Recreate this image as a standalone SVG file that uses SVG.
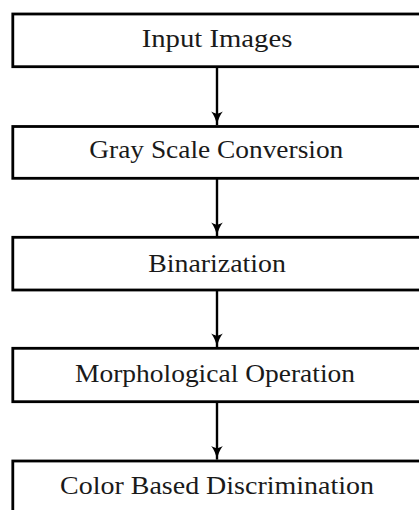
<svg xmlns="http://www.w3.org/2000/svg" width="419" height="510" viewBox="0 0 419 510">
<defs>
<style>
.box{fill:#fff;stroke:#000;stroke-width:2.8}
.lbl{font-family:"Liberation Serif","DejaVu Serif",serif;font-size:25px;fill:#1a1a1a;text-anchor:middle}
.edge{stroke:#000;stroke-width:2.4;fill:none}
</style>
<marker id="arr" markerUnits="userSpaceOnUse" markerWidth="16" markerHeight="14" refX="14" refY="6" orient="auto" viewBox="0 0 16 12">
<path d="M14,6 C10,6.6 4,9 0.5,11.8 C2,9 2.6,7.5 2.6,6 C2.6,4.5 2,3 0.5,0.2 C4,3 10,5.4 14,6 Z" fill="#000"/>
</marker>
</defs>
<g id="edges">
<line class="edge" x1="217" y1="66.7" x2="217" y2="125" marker-end="url(#arr)"/>
<line class="edge" x1="217" y1="178.3" x2="217" y2="236" marker-end="url(#arr)"/>
<line class="edge" x1="217" y1="290" x2="217" y2="347" marker-end="url(#arr)"/>
<line class="edge" x1="217" y1="401.7" x2="217" y2="459.6" marker-end="url(#arr)"/>
</g>
<g id="n1"><rect class="box" x="12.8" y="14" width="409" height="52.7"/><text class="lbl" x="217" y="46.7" textLength="150.7" lengthAdjust="spacingAndGlyphs">Input Images</text></g>
<g id="n2"><rect class="box" x="12.8" y="126.5" width="409" height="51.8"/><text class="lbl" x="216.3" y="158.3" textLength="254" lengthAdjust="spacingAndGlyphs">Gray Scale Conversion</text></g>
<g id="n3"><rect class="box" x="12.8" y="237.3" width="409" height="52.7"/><text class="lbl" x="217" y="272.3" textLength="137.7" lengthAdjust="spacingAndGlyphs">Binarization</text></g>
<g id="n4"><rect class="box" x="12.8" y="348.3" width="409" height="53.4"/><text class="lbl" x="215" y="381.7" textLength="280" lengthAdjust="spacingAndGlyphs">Morphological Operation</text></g>
<g id="n5"><rect class="box" x="12.8" y="461" width="409" height="53"/><text class="lbl" x="217" y="493.5" textLength="314" lengthAdjust="spacingAndGlyphs">Color Based Discrimination</text></g>
</svg>
